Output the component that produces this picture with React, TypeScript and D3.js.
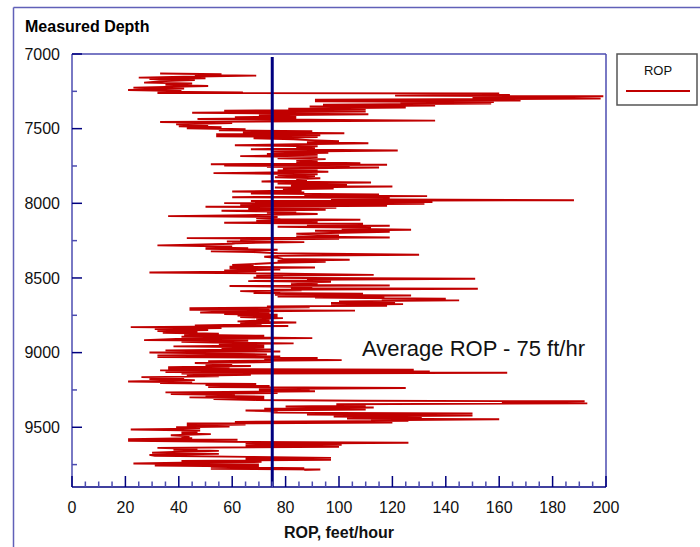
import React from "react";
import * as d3 from "d3";

const depthFt: number[] = [
  7131, 7136, 7140, 7145, 7152, 7158, 7163, 7167, 7174, 7181, 7192, 7198, 7207, 7214, 7225, 7232, 7241, 7248, 7252, 7257,
  7261, 7265, 7270, 7274, 7279, 7283, 7290, 7294, 7299, 7306, 7312, 7317, 7321, 7326, 7332, 7339, 7346, 7352, 7359, 7366,
  7372, 7379, 7386, 7393, 7399, 7404, 7410, 7417, 7424, 7430, 7435, 7439, 7446, 7455, 7462, 7471, 7477, 7484, 7491, 7497,
  7504, 7511, 7517, 7524, 7531, 7537, 7544, 7551, 7557, 7564, 7571, 7577, 7584, 7591, 7598, 7604, 7611, 7618, 7624, 7631,
  7638, 7646, 7655, 7662, 7669, 7675, 7684, 7691, 7698, 7704, 7711, 7718, 7725, 7731, 7738, 7742, 7747, 7751, 7756, 7760,
  7767, 7774, 7780, 7789, 7798, 7805, 7811, 7818, 7825, 7832, 7838, 7845, 7854, 7861, 7867, 7874, 7881, 7887, 7894, 7901,
  7907, 7914, 7921, 7927, 7934, 7941, 7948, 7952, 7959, 7965, 7972, 7979, 7985, 7992, 7999, 8003, 8010, 8017, 8023, 8030,
  8037, 8043, 8050, 8057, 8063, 8072, 8079, 8086, 8092, 8099, 8106, 8110, 8117, 8124, 8130, 8137, 8144, 8150, 8157, 8164,
  8170, 8177, 8184, 8190, 8197, 8204, 8215, 8222, 8229, 8233, 8238, 8244, 8251, 8256, 8260, 8267, 8271, 8278, 8282, 8289,
  8296, 8300, 8305, 8311, 8318, 8322, 8327, 8334, 8338, 8345, 8352, 8358, 8365, 8372, 8378, 8385, 8392, 8398, 8405, 8412,
  8418, 8425, 8430, 8436, 8443, 8450, 8456, 8463, 8470, 8479, 8485, 8492, 8499, 8505, 8512, 8517, 8521, 8525, 8532, 8539,
  8546, 8550, 8554, 8561, 8568, 8572, 8579, 8583, 8588, 8595, 8601, 8606, 8612, 8617, 8624, 8628, 8632, 8639, 8644, 8650,
  8657, 8664, 8668, 8675, 8681, 8686, 8690, 8697, 8702, 8708, 8713, 8719, 8724, 8731, 8735, 8742, 8746, 8751, 8757, 8762,
  8769, 8773, 8784, 8791, 8798, 8805, 8811, 8818, 8822, 8829, 8836, 8842, 8849, 8856, 8863, 8867, 8874, 8880, 8887, 8894,
  8903, 8909, 8916, 8920, 8927, 8932, 8938, 8945, 8952, 8958, 8965, 8972, 8978, 8985, 8992, 8999, 9005, 9012, 9019, 9025,
  9030, 9036, 9043, 9050, 9057, 9063, 9070, 9077, 9083, 9090, 9097, 9103, 9110, 9115, 9119, 9126, 9130, 9135, 9141, 9148,
  9155, 9159, 9164, 9170, 9177, 9184, 9193, 9199, 9204, 9210, 9217, 9224, 9230, 9237, 9244, 9248, 9255, 9259, 9266, 9271,
  9277, 9284, 9288, 9295, 9300, 9306, 9311, 9317, 9322, 9326, 9333, 9340, 9346, 9355, 9361, 9368, 9375, 9381, 9388, 9395,
  9402, 9408, 9415, 9422, 9428, 9435, 9442, 9446, 9453, 9457, 9464, 9468, 9475, 9482, 9488, 9495, 9500, 9506, 9511, 9515,
  9522, 9529, 9535, 9542, 9546, 9553, 9560, 9567, 9573, 9580, 9584, 9591, 9598, 9604, 9611, 9618, 9625, 9631, 9638, 9645,
  9651, 9658, 9665, 9671, 9678, 9685, 9691, 9698, 9705, 9711, 9718, 9725, 9732, 9738, 9743, 9749, 9756, 9763, 9767, 9774,
  9778, 9783, 9787,
];

const ropFtHr: number[] = [
  33, 56, 46, 69, 42, 25, 50, 29, 46, 35, 27, 45, 35, 51, 23, 42, 21, 41, 32, 64,
  32, 160, 144, 164, 121, 199, 150, 168, 198, 91, 168, 91, 158, 123, 157, 94, 136, 89, 125, 81,
  110, 57, 110, 45, 77, 111, 70, 84, 61, 84, 47, 77, 136, 33, 60, 39, 51, 40, 56, 43,
  65, 55, 90, 64, 102, 54, 93, 54, 92, 68, 83, 89, 100, 88, 111, 84, 61, 92, 84, 91,
  67, 122, 75, 96, 73, 92, 63, 92, 77, 95, 84, 92, 84, 108, 52, 118, 57, 104, 73, 115,
  79, 92, 77, 96, 53, 92, 77, 91, 76, 93, 84, 88, 71, 112, 77, 103, 82, 120, 76, 98,
  79, 86, 60, 87, 67, 115, 87, 133, 60, 119, 97, 188, 67, 135, 57, 132, 63, 118, 50, 99,
  66, 95, 56, 84, 73, 92, 65, 36, 77, 69, 78, 108, 69, 92, 57, 109, 88, 119, 77, 112,
  101, 127, 91, 119, 101, 84, 100, 84, 119, 43, 100, 63, 67, 58, 87, 62, 60, 45, 32, 60,
  50, 66, 50, 77, 64, 52, 68, 77, 95, 130, 77, 72, 77, 79, 104, 77, 95, 77, 70, 60,
  68, 59, 91, 59, 78, 57, 69, 29, 75, 113, 69, 79, 68, 151, 88, 96, 66, 97, 82, 92,
  82, 119, 59, 90, 82, 152, 75, 86, 63, 78, 68, 109, 76, 127, 77, 117, 91, 140, 116, 145,
  100, 121, 97, 124, 97, 118, 73, 89, 44, 74, 44, 106, 57, 48, 74, 57, 77, 62, 77, 63,
  79, 69, 74, 62, 84, 63, 71, 46, 81, 22, 56, 31, 51, 32, 47, 34, 55, 42, 72, 41,
  90, 39, 27, 66, 41, 53, 83, 55, 72, 38, 72, 56, 75, 35, 78, 29, 51, 73, 32, 78,
  32, 92, 72, 101, 51, 75, 46, 60, 50, 67, 36, 59, 36, 128, 33, 134, 35, 163, 41, 67,
  43, 55, 26, 42, 29, 46, 21, 45, 33, 69, 50, 74, 51, 125, 70, 89, 70, 91, 35, 77,
  37, 61, 50, 72, 44, 72, 53, 69, 108, 192, 161, 193, 99, 110, 80, 113, 72, 110, 65, 77,
  75, 150, 88, 150, 98, 131, 103, 160, 112, 126, 61, 120, 43, 65, 43, 59, 39, 48, 38, 22,
  48, 41, 47, 41, 52, 37, 44, 41, 45, 21, 62, 21, 59, 126, 65, 101, 65, 100, 32, 47,
  38, 55, 38, 30, 55, 29, 31, 66, 97, 65, 97, 41, 71, 41, 23, 70, 31, 70, 52, 87,
  52, 93, 87,
];

const depthMajorTicks: number[] = [7000, 7500, 8000, 8500, 9000, 9500];
const ropMajorTicks: number[] = [0, 20, 40, 60, 80, 100, 120, 140, 160, 180, 200];
const averageRop = 75;
const averageLabel = "Average ROP - 75 ft/hr";
const seriesName = "ROP";

export default function App() {
  const left = 72, right = 606, top = 54, bottom = 487;
  const x = d3.scaleLinear().domain([0, 200]).range([left, right]);
  const y = d3.scaleLinear().domain([7000, 9900]).range([top, bottom]);

  const pts: [number, number][] = depthFt.map((d, i) => [ropFtHr[i], d]);
  const line = d3
    .line<[number, number]>()
    .x((p) => x(p[0]))
    .y((p) => y(p[1]));

  const yMinor = d3.range(7000, 9900, 250);
  const xMinor = d3.range(0, 201, 5);
  const font = "Arial, 'Liberation Sans', sans-serif";
  const navy = "#00007f";
  const frame = "#4c4cb0";

  return (
    <svg
      width={700}
      height={547}
      style={{ position: "absolute", left: 0, top: 0, background: "#fff" }}
      fontFamily={font}
    >
      {/* outer frame */}
      <line x1={13.5} y1={7.5} x2={700} y2={7.5} stroke="#6060b8" strokeWidth={1.5} />
      <line x1={13.5} y1={7.5} x2={13.5} y2={547} stroke="#6060b8" strokeWidth={1.5} />

      <text x={25} y={32} fontSize={16} fontWeight="bold" fill="#000">
        Measured Depth
      </text>

      {/* plot frame top/right */}
      <line x1={left} y1={top} x2={right} y2={top} stroke={frame} strokeWidth={1.5} />
      <line x1={right} y1={top} x2={right} y2={bottom} stroke={frame} strokeWidth={1.5} />

      {/* y axis */}
      <line x1={left} y1={top} x2={left} y2={bottom} stroke={frame} strokeWidth={1.5} />
      {yMinor.map((v) => {
        const major = v % 500 === 0;
        return (
          <line
            key={"ym" + v}
            x1={left}
            x2={left + (major ? 10 : 5)}
            y1={y(v)}
            y2={y(v)}
            stroke={major ? navy : frame}
            strokeWidth={1.5}
          />
        );
      })}
      {depthMajorTicks.map((v) => (
        <text
          key={"yl" + v}
          x={60}
          y={y(v)}
          dy="0.36em"
          textAnchor="end"
          fontSize={16}
          fill="#111"
        >
          {v}
        </text>
      ))}

      {/* data line */}
      <path d={line(pts) || ""} fill="none" stroke="#c00000" strokeWidth={1.9} strokeLinejoin="miter" strokeMiterlimit={2} />

      {/* average line */}
      <line x1={x(averageRop)} x2={x(averageRop)} y1={57} y2={bottom} stroke={navy} strokeWidth={3} />

      {/* x axis */}
      <line x1={left} y1={bottom} x2={right} y2={bottom} stroke={navy} strokeWidth={1.5} />
      {xMinor.map((v) => {
        const major = v % 20 === 0;
        return (
          <line
            key={"xm" + v}
            x1={x(v)}
            x2={x(v)}
            y1={bottom}
            y2={bottom - (major ? 11 : 5.5)}
            stroke={major ? navy : frame}
            strokeWidth={1.5}
          />
        );
      })}
      {ropMajorTicks.map((v) => (
        <text key={"xl" + v} x={x(v)} y={513} textAnchor="middle" fontSize={16} fill="#111">
          {v}
        </text>
      ))}
      <text x={(left + right) / 2} y={538} textAnchor="middle" fontSize={16} fontWeight="bold" fill="#111">
        ROP, feet/hour
      </text>

      <text x={362} y={356} fontSize={22} fill="#111">
        {averageLabel}
      </text>

      {/* legend */}
      <rect x={617} y={54} width={80} height={51} fill="#fff" stroke="#555" strokeWidth={1.5} />
      <text x={658} y={75} textAnchor="middle" fontSize={13} fill="#111">
        {seriesName}
      </text>
      <line x1={626} x2={690} y1={91} y2={91} stroke="#c00000" strokeWidth={2} />
    </svg>
  );
}
